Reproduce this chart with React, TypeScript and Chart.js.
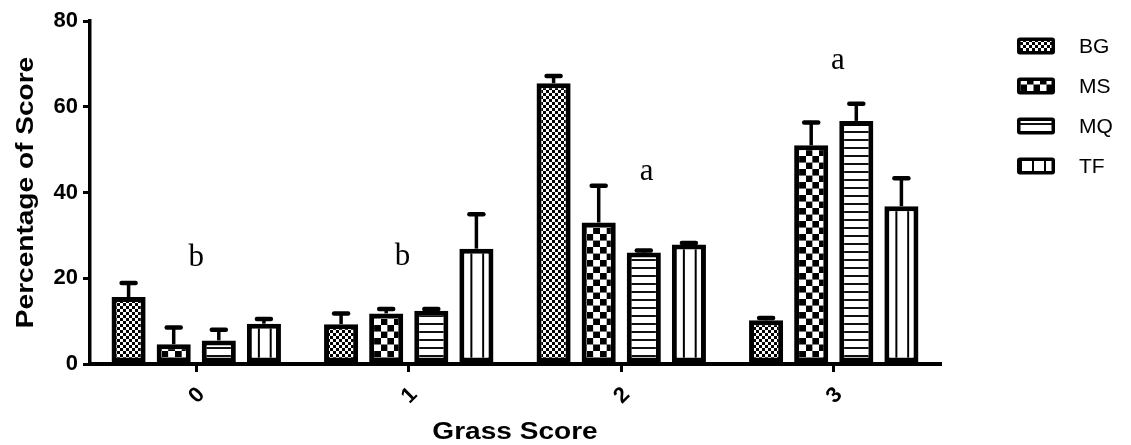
import React, { useEffect, useRef } from 'react';
import { Chart, registerables } from 'chart.js';

Chart.register(...registerables);

// ---- data ----
const categories = ['0', '1', '2', '3'];
const seriesNames = ['BG', 'MS', 'MQ', 'TF'];
const bgValues = [15.6, 9.3, 65.5, 10.2];
const bgErrors = [3.3, 2.5, 1.7, 0.5];
const msValues = [4.6, 11.8, 33.0, 51.0];
const msErrors = [3.9, 1.0, 8.6, 5.3];
const mqValues = [5.5, 12.4, 26.0, 56.7];
const mqErrors = [2.5, 0.4, 0.5, 4.0];
const tfValues = [9.4, 26.9, 27.9, 36.8];
const tfErrors = [1.1, 8.0, 0.3, 6.5];
const yTickValues = [0, 20, 40, 60, 80];
const annotationTexts = ['b', 'b', 'a', 'a'];
const annotationX = [0, 0.97, 2.12, 3.02];
const annotationY = [22.8, 23.0, 42.8, 68.8];
const xTitle = 'Grass Score';
const yTitle = 'Percentage of Score';

const seriesValues = [bgValues, msValues, mqValues, tfValues];
const seriesErrors = [bgErrors, msErrors, mqErrors, tfErrors];

const SANS = '"Liberation Sans", Arial, sans-serif';
const SERIF = '"Liberation Serif", "Times New Roman", serif';

function makeTile(w: number, h: number, draw: (g: CanvasRenderingContext2D) => void) {
  const c = document.createElement('canvas');
  c.width = w;
  c.height = h;
  const g = c.getContext('2d')!;
  g.fillStyle = '#fff';
  g.fillRect(0, 0, w, h);
  g.fillStyle = '#000';
  draw(g);
  return c;
}

function makePatterns(ctx: CanvasRenderingContext2D) {
  const bg = ctx.createPattern(
    makeTile(6, 6, (g) => {
      g.fillRect(0, 0, 3, 3);
      g.fillRect(3, 3, 3, 3);
    }),
    'repeat'
  )!;
  const ms = ctx.createPattern(
    makeTile(26, 26, (g) => {
      g.fillRect(0, 0, 13, 13);
      g.fillRect(13, 13, 13, 13);
    }),
    'repeat'
  )!;
  ms.setTransform(new DOMMatrix().scale(0.5));
  const mq = ctx.createPattern(
    makeTile(8, 8, (g) => {
      g.fillStyle = '#111';
      g.fillRect(0, 3, 8, 2);
    }),
    'repeat'
  )!;
  const tf = ctx.createPattern(
    makeTile(12, 12, (g) => {
      g.fillRect(0, 0, 2, 12);
    }),
    'repeat'
  )!;
  return [bg, ms, mq, tf];
}

export default function App() {
  const ref = useRef<HTMLCanvasElement>(null);

  useEffect(() => {
    const canvas = ref.current!;
    const ctx = canvas.getContext('2d')!;
    const patterns = makePatterns(ctx);
    const legendPatterns = makePatterns(ctx);

    const decor = {
      id: 'decor',
      beforeDatasetsDraw(chart: any) {
        const meta = chart.getDatasetMeta(3);
        const els = meta.data;
        if (els.length > 1) {
          const x0 = els[0].x - els[0].width / 2;
          const pitch = els[1].x - els[0].x;
          const n = Math.round(pitch / 12);
          const s = pitch / (n * 12);
          (patterns[3] as CanvasPattern).setTransform(
            new DOMMatrix().translate(x0 + 11, 0).scale(s, 1)
          );
          const msMeta = chart.getDatasetMeta(1).data;
          const mx0 = msMeta[0].x - msMeta[0].width / 2;
          const mpitch = msMeta[1].x - msMeta[0].x;
          const mn = Math.round(mpitch / 13);
          const ms = mpitch / (mn * 13);
          (patterns[1] as CanvasPattern).setTransform(
            new DOMMatrix().translate(mx0 + 5, chart.chartArea.bottom).scale(0.5 * ms, 0.5)
          );
        }
      },
      afterDatasetsDraw(chart: any) {
        const c = chart.ctx as CanvasRenderingContext2D;
        const y = chart.scales.y;
        c.save();
        c.strokeStyle = '#000';
        for (let d = 0; d < seriesValues.length; d++) {
          const meta = chart.getDatasetMeta(d);
          meta.data.forEach((el: any, j: number) => {
            const top = y.getPixelForValue(seriesValues[d][j] + seriesErrors[d][j]);
            c.lineCap = 'butt';
            c.lineWidth = 3.5;
            c.beginPath();
            c.moveTo(el.x, el.y);
            c.lineTo(el.x, top);
            c.stroke();
            c.lineCap = 'round';
            c.lineWidth = 4.5;
            c.beginPath();
            c.moveTo(el.x - 7, top);
            c.lineTo(el.x + 7, top);
            c.stroke();
          });
        }
        c.restore();
      },
      afterDraw(chart: any) {
        const c = chart.ctx as CanvasRenderingContext2D;
        const area = chart.chartArea;
        const xs = chart.scales.x;
        const ys = chart.scales.y;
        c.save();
        c.fillStyle = '#000';
        c.font = `31px ${SERIF}`;
        c.textAlign = 'center';
        c.textBaseline = 'alphabetic';
        annotationTexts.forEach((t, i) => {
          c.fillText(t, xs.getPixelForValue(annotationX[i]), ys.getPixelForValue(annotationY[i]));
        });
        c.font = `bold 23px ${SANS}`;
        c.save();
        c.translate((area.left + area.right) / 2, area.bottom + 75);
        c.scale(1.22, 1);
        c.fillText(xTitle, 0, 0);
        c.restore();
        c.font = `bold 23px ${SANS}`;
        c.save();
        c.translate(area.left - 57, (area.top + area.bottom) / 2);
        c.rotate(-Math.PI / 2);
        c.scale(1.22, 1);
        c.fillText(yTitle, 0, 0);
        c.restore();
        const bx = area.right + 77;
        seriesNames.forEach((name, i) => {
          const cy = area.top + 25 + i * 40;
          c.beginPath();
          c.roundRect(bx, cy - 8.5, 38, 17, 3);
          c.fillStyle = '#000';
          c.fill();
          c.beginPath();
          c.rect(bx + 3.5, cy - 5, 31, 10);
          c.fillStyle = legendPatterns[i];
          c.fill();
          c.fillStyle = '#000';
          c.font = `21px ${SANS}`;
          c.textAlign = 'left';
          c.textBaseline = 'middle';
          c.fillText(name, bx + 62, cy + 1);
        });
        c.restore();
      },
    };

    const chart = new Chart(canvas, {
      type: 'bar',
      data: {
        labels: categories,
        datasets: seriesNames.map((name, i) => ({
          label: name,
          data: seriesValues[i],
          backgroundColor: patterns[i],
          borderColor: '#000',
          borderWidth: 5,
          borderSkipped: false,
          categoryPercentage: 0.849,
          barPercentage: 0.756,
        })),
      },
      options: {
        responsive: false,
        animation: false,
        events: [],
        layout: { padding: { top: 21, right: 191, left: 0, bottom: 0 } },
        plugins: {
          legend: { display: false },
          tooltip: { enabled: false },
          title: { display: false },
        },
        scales: {
          x: {
            type: 'category',
            offset: true,
            grid: {
              display: true,
              drawOnChartArea: false,
              drawTicks: true,
              tickLength: 8,
              offset: false,
              lineWidth: 3,
              color: '#000',
            },
            border: { display: true, width: 4, color: '#000' },
            ticks: {
              color: '#000',
              font: { family: SANS, size: 22, weight: 'bold' },
              minRotation: 45,
              maxRotation: 45,
              padding: 10,
              labelOffset: 5,
              autoSkip: false,
            },
            afterFit: (s: any) => {
              s.height = 81;
            },
          },
          y: {
            min: 0,
            max: 80,
            grid: {
              display: true,
              drawOnChartArea: false,
              drawTicks: true,
              tickLength: 7,
              lineWidth: 3,
              color: '#000',
            },
            border: { display: true, width: 3.5, color: '#000' },
            ticks: {
              color: '#000',
              font: { family: SANS, size: 22, weight: 'bold' },
              padding: 5,
            },
            afterBuildTicks: (s: any) => {
              s.ticks = yTickValues.map((v) => ({ value: v }));
            },
            afterFit: (s: any) => {
              s.width = 90;
            },
          },
        },
      },
      plugins: [decor],
    } as any);

    return () => chart.destroy();
  }, []);

  return (
    <div style={{ position: 'absolute', left: 0, top: 0, width: 1131, height: 445, background: '#fff' }}>
      <canvas ref={ref} width={1131} height={445} style={{ display: 'block' }} />
    </div>
  );
}
